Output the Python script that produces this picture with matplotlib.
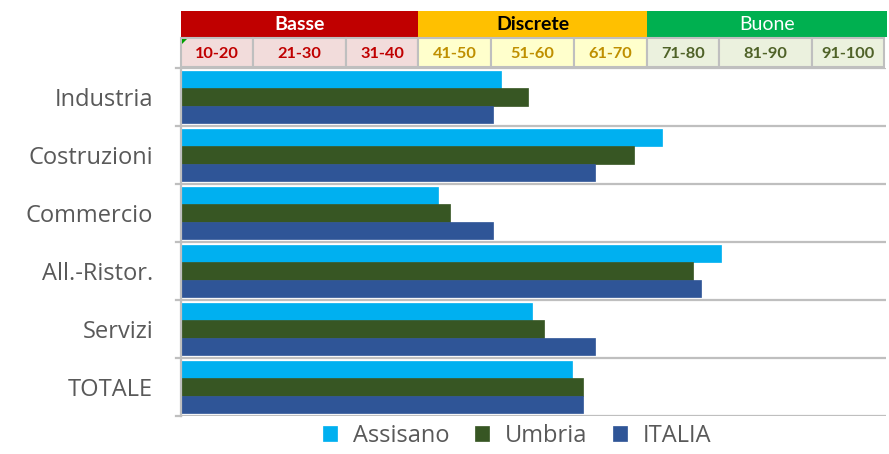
import matplotlib
matplotlib.use("Agg")
import matplotlib.pyplot as plt
from matplotlib.patches import Rectangle, Polygon
import numpy as np

categories = ["Industria", "Costruzioni", "Commercio", "All.-Ristor.", "Servizi", "TOTALE"]
assisano = [50.9, 71.4, 42.8, 78.9, 54.8, 59.9]
umbria = [54.3, 67.8, 44.3, 75.4, 56.3, 61.3]
italia = [49.8, 62.9, 49.8, 76.4, 62.9, 61.3]
series_names = ["Assisano", "Umbria", "ITALIA"]
series_colors = ["#00B0F0", "#375623", "#2F5597"]

band_labels = ["Basse", "Discrete", "Buone"]
range_labels = ["10-20", "21-30", "31-40", "41-50", "51-60", "61-70", "71-80", "81-90", "91-100"]

W, H = 889, 454
plt.rcParams['font.family'] = ['Open Sans', 'DejaVu Sans']
fig = plt.figure(figsize=(W / 100, H / 100), dpi=100)

def fx(px):
    return px / W

def fy(py):
    return 1 - py / H

ax = fig.add_axes([fx(181), fy(416), fx(886) - fx(181), fy(68) - fy(416)])
n = len(categories)
y = np.arange(n)
h = 0.3
data = [assisano, umbria, italia]
offsets = [-h, 0, h]
for vals, off, c, name in zip(data, offsets, series_colors, series_names):
    ax.barh(y + off, np.array(vals) - 10, height=h, left=10, color=c, label=name,
            edgecolor=c, linewidth=0.5)

ax.set_xlim(10, 100)
ax.set_ylim(n - 0.5, -0.5)
ax.set_yticks(y)
ax.set_yticklabels(categories, fontsize=17, color="#595959")
ax.tick_params(axis='y', length=0, pad=20)
ax.set_xticks([])
for b in np.arange(-0.5, n, 1.0):
    ax.axhline(b, color="#BFBFBF", lw=1.6, zorder=0)
    ax.plot([-0.007, 0], [b, b], transform=ax.get_yaxis_transform(), color="#BFBFBF", lw=1.6, clip_on=False)
for s in ["top", "right", "bottom"]:
    ax.spines[s].set_visible(False)
ax.spines["left"].set_color("#BFBFBF")
ax.spines["left"].set_linewidth(1.6)

leg = fig.legend(loc="center", bbox_to_anchor=(fx(517), fy(436)), ncol=3, frameon=False,
                 fontsize=17, handlelength=0.6, handleheight=0.6, handletextpad=0.65, columnspacing=1.1)
for t in leg.get_texts():
    t.set_color("#595959")

# header table
col_edges = [181, 253, 346, 418, 491, 574, 647, 719, 812, 884]
band_edges = [181, 418, 647, 887]
band_fill = ["#C00000", "#FFC000", "#00B050"]
band_text = ["white", "black", "white"]
band_weight = ["bold", "bold", "normal"]
cell_fill = ["#F2DCDB", "#FFFFCC", "#EBF1DE"]
cell_text = ["#C00000", "#BF8F00", "#4F6228"]

r1_top, r1_bot = 11, 37
r2_top, r2_bot = 38, 67
for i, lab in enumerate(band_labels):
    x0, x1 = band_edges[i], band_edges[i + 1]
    fig.patches.append(Rectangle((fx(x0), fy(r1_bot)), fx(x1) - fx(x0), fy(r1_top) - fy(r1_bot),
                                 transform=fig.transFigure, facecolor=band_fill[i], edgecolor="none"))
    fig.text(fx((x0 + x1) / 2), fy((r1_top + r1_bot) / 2), lab, ha="center", va="center",
             fontsize=14, color=band_text[i], fontweight=band_weight[i], family=['Lato', 'DejaVu Sans'])
for j, lab in enumerate(range_labels):
    g = j // 3
    x0, x1 = col_edges[j], col_edges[j + 1]
    fig.patches.append(Rectangle((fx(x0), fy(r2_bot)), fx(x1) - fx(x0), fy(r2_top) - fy(r2_bot),
                                 transform=fig.transFigure, facecolor=cell_fill[g], edgecolor="#BFBFBF", lw=1.5))
    fig.text(fx((x0 + x1) / 2), fy((r2_top + r2_bot) / 2 + 1), lab, ha="center", va="center",
             fontsize=11.8, color=cell_text[g], fontweight="bold", family=['Lato', 'DejaVu Sans'])
fig.patches.append(Polygon([(fx(182), fy(39)), (fx(187), fy(39)), (fx(182), fy(44))],
                           closed=True, transform=fig.transFigure, facecolor="#00A000", edgecolor="none"))

fig.savefig("out.png", dpi=100)
